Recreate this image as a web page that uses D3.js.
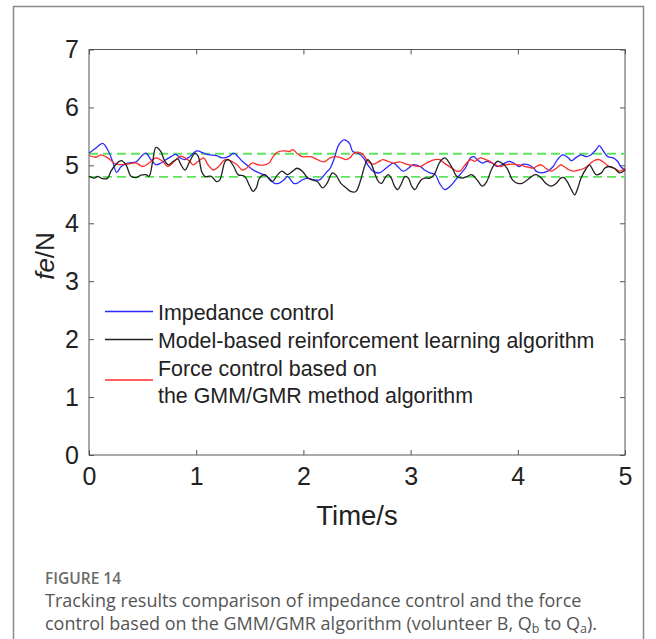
<!DOCTYPE html>
<html><head><meta charset="utf-8">
<script src="https://cdn.jsdelivr.net/npm/d3@7"></script>
<style>body{margin:0;background:#fff}svg{display:block}</style>
</head><body>
<svg id="c" width="656" height="639"></svg>
<script>
// ---- data (time in s, force in N) ----
const xTicks = [0,1,2,3,4,5];
const yTicks = [0,1,2,3,4,5,6,7];
const bandUpper = 5.2;
const bandLower = 4.8;
const legendLabels = [["Impedance control"],["Model-based reinforcement learning algorithm"],["Force control based on","the GMM/GMR method algorithm"]];

const impedance = [[0,5.21],[0.065,5.30],[0.127,5.38],[0.174,5.27],[0.22,5.07],[0.258,4.88],[0.30,4.98],[0.36,5.04],[0.44,5.06],[0.485,5.15],[0.53,5.21],[0.578,5.10],[0.625,5.01],[0.67,5.04],[0.72,5.10],[0.765,5.15],[0.81,5.19],[0.85,5.13],[0.895,5.10],[0.94,5.15],[1.005,5.25],[1.07,5.21],[1.13,5.18],[1.19,5.17],[1.24,5.13],[1.30,5.15],[1.35,5.21],[1.39,5.15],[1.43,5.07],[1.49,4.98],[1.55,4.90],[1.63,4.84],[1.68,4.78],[1.73,4.69],[1.77,4.69],[1.82,4.75],[1.85,4.81],[1.91,4.69],[1.94,4.69],[1.99,4.75],[2.04,4.78],[2.10,4.75],[2.15,4.75],[2.21,4.87],[2.25,4.95],[2.29,5.13],[2.33,5.355],[2.38,5.44],[2.43,5.38],[2.46,5.24],[2.51,5.21],[2.56,5.13],[2.60,5.01],[2.65,4.90],[2.71,4.87],[2.77,4.95],[2.84,5.04],[2.88,4.98],[2.93,4.90],[2.98,4.95],[3.02,5.01],[3.09,4.98],[3.13,4.92],[3.18,4.87],[3.23,4.84],[3.27,4.69],[3.32,4.58],[3.37,4.64],[3.42,4.75],[3.46,4.84],[3.51,4.95],[3.56,5.13],[3.59,5.15],[3.62,5.10],[3.67,5.04],[3.71,5.07],[3.76,5.04],[3.81,4.98],[3.85,5.01],[3.92,5.07],[3.96,5.04],[4.01,4.98],[4.05,5.02],[4.10,5.01],[4.15,4.95],[4.17,4.90],[4.22,4.87],[4.28,4.90],[4.33,4.98],[4.37,5.10],[4.42,5.18],[4.47,5.13],[4.50,5.08],[4.54,5.13],[4.59,5.18],[4.64,5.15],[4.68,5.18],[4.73,5.27],[4.76,5.34],[4.79,5.27],[4.84,5.15],[4.89,5.13],[4.93,5.07],[4.96,4.98],[5.00,4.92]];

const modelRL = [[0,4.81],[0.05,4.78],[0.08,4.81],[0.127,4.77],[0.174,4.78],[0.205,4.90],[0.252,5.02],[0.30,5.08],[0.345,5.01],[0.392,4.81],[0.44,4.79],[0.485,4.83],[0.53,4.84],[0.56,4.81],[0.594,5.07],[0.625,5.31],[0.67,5.24],[0.70,5.10],[0.74,5.01],[0.787,5.07],[0.83,5.11],[0.85,5.04],[0.895,4.92],[0.94,5.07],[0.99,5.21],[1.02,5.15],[1.05,4.90],[1.08,4.81],[1.14,4.81],[1.19,4.72],[1.22,4.75],[1.27,5.07],[1.30,5.10],[1.35,4.98],[1.39,4.84],[1.45,4.81],[1.50,4.64],[1.53,4.55],[1.56,4.61],[1.59,4.78],[1.64,4.84],[1.66,4.81],[1.71,4.72],[1.76,4.84],[1.80,4.90],[1.85,4.84],[1.90,4.90],[1.94,4.95],[1.99,4.90],[2.04,4.78],[2.08,4.75],[2.13,4.72],[2.18,4.61],[2.22,4.69],[2.27,4.87],[2.30,4.84],[2.35,4.69],[2.40,4.61],[2.44,4.55],[2.49,4.55],[2.53,4.72],[2.57,4.98],[2.60,5.10],[2.63,5.04],[2.67,4.84],[2.70,4.72],[2.73,4.69],[2.76,4.78],[2.79,4.84],[2.82,4.78],[2.85,4.64],[2.88,4.58],[2.91,4.67],[2.95,4.81],[2.98,4.78],[3.01,4.64],[3.04,4.58],[3.07,4.67],[3.10,4.75],[3.13,4.78],[3.18,4.78],[3.22,4.84],[3.26,5.01],[3.29,5.10],[3.32,5.13],[3.34,5.10],[3.39,4.95],[3.43,4.81],[3.48,4.78],[3.53,4.81],[3.57,4.84],[3.62,4.75],[3.67,4.64],[3.71,4.72],[3.76,4.95],[3.81,5.07],[3.85,5.04],[3.90,4.95],[3.95,4.75],[4.00,4.69],[4.04,4.69],[4.09,4.75],[4.13,4.81],[4.17,4.84],[4.22,4.78],[4.26,4.69],[4.31,4.64],[4.36,4.69],[4.40,4.78],[4.43,4.79],[4.47,4.69],[4.50,4.58],[4.53,4.49],[4.56,4.61],[4.59,4.78],[4.64,4.95],[4.67,5.01],[4.70,4.92],[4.73,4.84],[4.78,4.87],[4.81,4.95],[4.85,4.98],[4.90,4.95],[4.95,4.87],[5.00,4.92]];

const gmmGmr = [[0,5.17],[0.065,5.14],[0.112,5.18],[0.175,5.13],[0.252,5.02],[0.345,5.02],[0.44,5.04],[0.50,4.98],[0.56,5.04],[0.625,5.13],[0.687,5.07],[0.734,4.98],[0.78,5.04],[0.83,5.13],[0.85,5.16],[0.895,5.13],[0.94,5.07],[0.97,5.01],[1.02,5.07],[1.07,5.13],[1.11,5.01],[1.16,4.92],[1.21,4.98],[1.27,5.10],[1.33,5.07],[1.38,5.01],[1.43,4.92],[1.47,4.95],[1.52,5.04],[1.58,5.01],[1.64,5.01],[1.68,5.04],[1.71,5.13],[1.76,5.23],[1.82,5.25],[1.87,5.24],[1.90,5.27],[1.94,5.21],[1.99,5.15],[2.07,5.15],[2.13,5.10],[2.19,5.06],[2.25,5.13],[2.30,5.15],[2.35,5.13],[2.40,5.10],[2.44,5.14],[2.46,5.19],[2.51,5.23],[2.56,5.18],[2.60,5.07],[2.65,5.02],[2.70,5.06],[2.74,5.10],[2.79,5.07],[2.84,5.04],[2.90,5.06],[2.96,5.02],[3.02,5.00],[3.09,4.98],[3.13,5.02],[3.18,5.07],[3.23,5.10],[3.27,5.10],[3.32,5.03],[3.37,4.97],[3.43,4.90],[3.46,4.90],[3.51,5.01],[3.56,5.10],[3.60,5.07],[3.65,5.13],[3.70,5.10],[3.74,5.07],[3.79,5.01],[3.84,4.98],[3.88,5.01],[3.95,5.02],[4.01,5.01],[4.07,4.98],[4.15,4.95],[4.17,4.98],[4.22,5.01],[4.26,4.95],[4.31,4.90],[4.36,4.95],[4.40,5.01],[4.43,4.98],[4.48,4.92],[4.53,4.90],[4.57,4.92],[4.62,4.95],[4.67,5.02],[4.71,5.08],[4.76,5.10],[4.81,5.04],[4.85,4.98],[4.90,4.95],[4.95,4.90],[5.00,4.95]];

// ---- layout ----
const svg = d3.select("#c");
const L = 89, R = 625, T = 49.5, B = 455;
const x = d3.scaleLinear().domain([0,5]).range([L,R]);
const y = d3.scaleLinear().domain([0,7]).range([B,T]);
const axisColor = "#555", textColor = "#222";
const FONT = "'Liberation Sans', Arial, sans-serif";

// outer frame
svg.append("rect").attr("x",13.5).attr("y",6.5).attr("width",630).attr("height",700)
  .attr("fill","none").attr("stroke","#8a8a8a").attr("stroke-width",1.5);

// plot box
svg.append("rect").attr("x",L).attr("y",T).attr("width",R-L).attr("height",B-T)
  .attr("fill","#fff").attr("stroke",axisColor).attr("stroke-width",1);

// axes with inward ticks
const ax = (g) => g.call(s => s.select(".domain").remove());
svg.append("g").attr("transform",`translate(0,${B})`)
  .call(d3.axisBottom(x).tickValues(xTicks).tickSize(-5).tickPadding(12).tickFormat(d3.format("d")))
  .call(ax).call(g=>{g.selectAll("line").attr("stroke",axisColor);
    g.selectAll("text").attr("font-family",FONT).attr("font-size",25).attr("fill",textColor);});
svg.append("g").attr("transform",`translate(0,${T})`)
  .call(d3.axisTop(x).tickValues(xTicks).tickSize(-5).tickFormat(""))
  .call(ax).call(g=>g.selectAll("line").attr("stroke",axisColor));
svg.append("g").attr("transform",`translate(${L},0)`)
  .call(d3.axisLeft(y).tickValues(yTicks).tickSize(-5).tickPadding(10).tickFormat(d3.format("d")))
  .call(ax).call(g=>{g.selectAll("line").attr("stroke",axisColor);
    g.selectAll("text").attr("font-family",FONT).attr("font-size",25).attr("fill",textColor);});
svg.append("g").attr("transform",`translate(${R},0)`)
  .call(d3.axisRight(y).tickValues(yTicks).tickSize(-5).tickFormat(""))
  .call(ax).call(g=>g.selectAll("line").attr("stroke",axisColor));

// reference band (dashed green)
[bandUpper,bandLower].forEach(v=>{
  svg.append("line").attr("x1",x(0)).attr("x2",x(5)).attr("y1",y(v)).attr("y2",y(v))
    .attr("stroke","#5fe35f").attr("stroke-width",1.8).attr("stroke-dasharray","9,5");
});

// series
const line = d3.line().x(d=>x(d[0])).y(d=>y(d[1])).curve(d3.curveCatmullRom.alpha(0.5));
const series = [
  {data: impedance, color:"#2a2aff"},
  {data: modelRL, color:"#222222"},
  {data: gmmGmr, color:"#ff2a2a"}
];
[series[0],series[2],series[1]].forEach(s=>{
  svg.append("path").attr("d",line(s.data)).attr("fill","none")
    .attr("stroke",s.color).attr("stroke-width",1.3).attr("stroke-linejoin","round");
});

// legend
const legY = [311.5, 339.5, 380];
const legTY = [[320],[348],[375.5,403]];
series.forEach((s,i)=>{
  svg.append("line").attr("x1",105).attr("x2",153).attr("y1",legY[i]).attr("y2",legY[i])
    .attr("stroke",s.color).attr("stroke-width",1.3);
  legendLabels[i].forEach((t,j)=>{
    svg.append("text").attr("x",158).attr("y",legTY[i][j]).text(t)
      .attr("font-family",FONT).attr("font-size",21.4).attr("fill",textColor);
  });
});

// axis titles
svg.append("text").attr("x",x(2.5)).attr("y",525).attr("text-anchor","middle")
  .attr("font-family",FONT).attr("font-size",27.5).attr("fill",textColor).text("Time/s");
const yl = svg.append("text").attr("transform","translate(54,256) rotate(-90)").attr("text-anchor","middle")
  .attr("font-family",FONT).attr("font-size",26).attr("fill",textColor);
yl.append("tspan").attr("font-style","italic").text("fe");
yl.append("tspan").text("/N");

// caption
const CF = "'Open Sans', 'Noto Sans', sans-serif";
svg.append("text").attr("x",45).attr("y",584).attr("font-family",CF).attr("font-size",15.5)
  .attr("font-weight",600).attr("fill","#6b6b6b").text("FIGURE 14");
svg.append("text").attr("x",45).attr("y",607).attr("font-family",CF).attr("font-size",18)
  .attr("fill","#555").text("Tracking results comparison of impedance control and the force");
const c2 = svg.append("text").attr("x",45).attr("y",630).attr("font-family",CF).attr("font-size",18).attr("fill","#555");
c2.append("tspan").text("control based on the GMM/GMR algorithm (volunteer B, Q");
c2.append("tspan").attr("font-size",12.5).attr("dy",3).text("b");
c2.append("tspan").attr("dy",-3).text(" to Q");
c2.append("tspan").attr("font-size",12.5).attr("dy",3).text("a");
c2.append("tspan").attr("dy",-3).text(").");
</script>
</body></html>
